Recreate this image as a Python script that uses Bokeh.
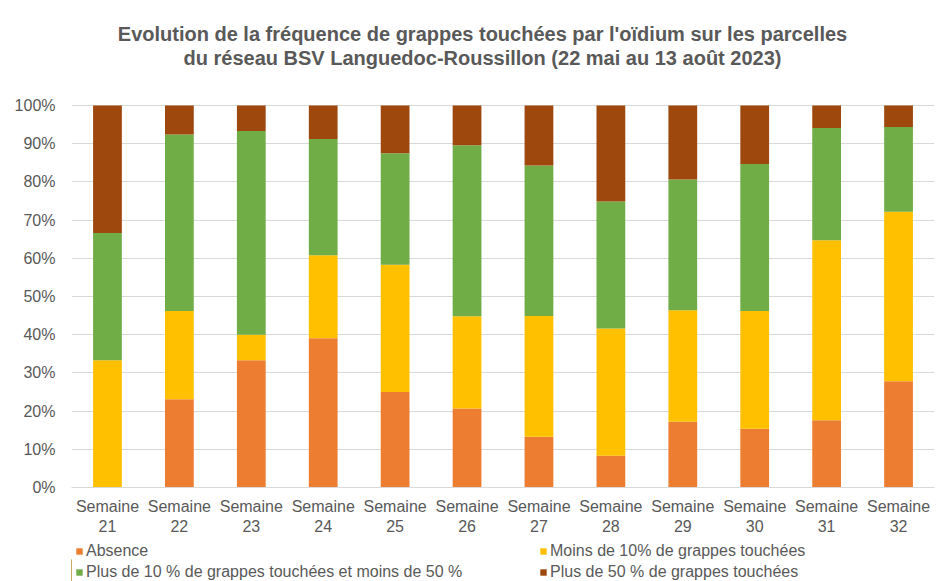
from bokeh.plotting import figure
from bokeh.models import (ColumnDataSource, FactorRange, Range1d, FixedTicker,
                          Legend, LegendItem, Label)
from bokeh.layouts import column
from bokeh.embed import file_html
from bokeh.resources import INLINE

# ---- data (percent of plots per class) ----
weeks = ["Semaine\n21", "Semaine\n22", "Semaine\n23", "Semaine\n24", "Semaine\n25", "Semaine\n26",
         "Semaine\n27", "Semaine\n28", "Semaine\n29", "Semaine\n30", "Semaine\n31", "Semaine\n32"]
absence = [0.0, 23.1, 33.3, 39.1, 25.0, 20.7, 13.3, 8.3, 17.2, 15.4, 17.6, 27.8]
moins10 = [33.3, 23.1, 6.7, 21.7, 33.3, 24.1, 31.6, 33.3, 29.2, 30.8, 47.1, 44.4]
plus10_50 = [33.3, 46.2, 53.3, 30.4, 29.2, 44.8, 39.4, 33.3, 34.2, 38.5, 29.4, 22.2]
plus50 = [33.4, 7.6, 6.7, 8.8, 12.5, 10.4, 15.7, 25.1, 19.4, 15.3, 5.9, 5.6]
series_names = ["Absence", "Moins de 10% de grappes touchées",
                "Plus de 10 % de grappes touchées et moins de 50 %",
                "Plus de 50 % de grappes touchées"]
y_ticks = [0, 10, 20, 30, 40, 50, 60, 70, 80, 90, 100]
y_tick_labels = ["0%", "10%", "20%", "30%", "40%", "50%", "60%", "70%", "80%", "90%", "100%"]
title_lines = ["Evolution de la fréquence de grappes touchées par l'oïdium sur les parcelles",
               "du réseau BSV Languedoc-Roussillon (22 mai au 13 août 2023)"]

colors = ["#ED7D31", "#FFC000", "#70AD47", "#9E480E"]
keys = ["absence", "moins10", "plus10_50", "plus50"]
TXT = "#595959"
FONT = "Liberation Sans"

source = ColumnDataSource(dict(weeks=weeks, absence=absence, moins10=moins10,
                               plus10_50=plus10_50, plus50=plus50))

W = 943
MAIN_H, LEG_H = 537, 44
FRAME_TOP_PX, FRAME_BOTTOM_PX = 105, 487  # pixel rows of 100% and 0%
y_top = 100 * FRAME_BOTTOM_PX / (FRAME_BOTTOM_PX - FRAME_TOP_PX)  # frame extends up to canvas top

p = figure(width=W, height=MAIN_H,
           x_range=FactorRange(*weeks), y_range=Range1d(0, y_top),
           output_backend="svg", toolbar_location=None,
           min_border_left=71, min_border_right=9, min_border_top=0,
           min_border_bottom=MAIN_H - FRAME_BOTTOM_PX)
p.outline_line_color = None
p.background_fill_color = "white"

rs = p.vbar_stack(keys, x="weeks", width=0.4, color=colors, line_color=None, source=source)

# axes
p.yaxis.ticker = FixedTicker(ticks=y_ticks)
p.yaxis.major_label_overrides = {t: l for t, l in zip(y_ticks, y_tick_labels)}
for ax in (p.xaxis[0], p.yaxis[0]):
    ax.major_tick_line_color = None
    ax.minor_tick_line_color = None
    ax.major_label_text_color = TXT
    ax.major_label_text_font = FONT
    ax.major_label_text_font_size = "16px"
p.yaxis.axis_line_color = None
p.yaxis.major_label_standoff = 10
p.xaxis.axis_line_color = "#D9D9D9"
p.xaxis.major_label_standoff = 4
p.xgrid.grid_line_color = None
p.ygrid.grid_line_color = "#D9D9D9"
p.ygrid.ticker = FixedTicker(ticks=y_ticks)

# title (inside the extended frame, above the 100% line)
def px_to_y(py):
    return (FRAME_BOTTOM_PX - py) / (FRAME_BOTTOM_PX - FRAME_TOP_PX) * 100

for line, cy in zip(title_lines, [33, 57]):
    p.add_layout(Label(x=411, y=px_to_y(cy), x_units="screen", y_units="data", text=line,
                       text_align="center", text_baseline="middle", text_font=FONT,
                       text_font_size="20px", text_font_style="bold", text_color=TXT))

# legend strip under the chart (swatch renderers sit outside the visible range)
pl = figure(width=W, height=LEG_H, x_range=Range1d(0, 1), y_range=Range1d(0, 1),
            output_backend="svg", toolbar_location=None, x_axis_type=None, y_axis_type=None,
            min_border_left=0, min_border_right=0, min_border_top=0, min_border_bottom=0)
pl.outline_line_color = None
pl.xgrid.visible = False
pl.ygrid.visible = False
swatches = [pl.vbar(x=[-5], top=[0.5], width=0.1, color=c, line_color=None) for c in colors]
items = [LegendItem(label=n, renderers=[r]) for n, r in zip(series_names, swatches)]
legend = Legend(items=items, location=(4, -1), orientation="horizontal", ncols=2,
                glyph_width=8, glyph_height=8, label_standoff=3, label_width=453,
                label_height=21, spacing=0, padding=0, margin=0,
                border_line_color=None, background_fill_alpha=0,
                label_text_font=FONT, label_text_font_size="16px", label_text_color=TXT)
pl.add_layout(legend, "center")

layout = column(p, pl, spacing=0)
open("out.html", "w").write(file_html(layout, INLINE))
